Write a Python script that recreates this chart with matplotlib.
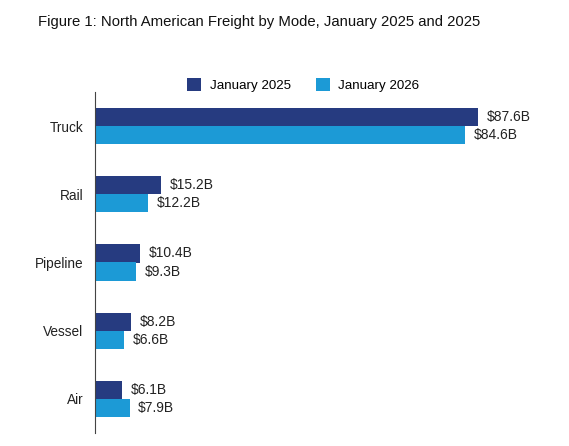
import matplotlib.pyplot as plt
import numpy as np

plt.rcParams['font.family'] = ['Liberation Sans', 'DejaVu Sans']

modes = ["Truck", "Rail", "Pipeline", "Vessel", "Air"]
jan_2025 = [87.6, 15.2, 10.4, 8.2, 6.1]
jan_2026 = [84.6, 12.2, 9.3, 6.6, 7.9]
series_names = ["January 2025", "January 2026"]

dark = "#263B80"
light = "#1C9AD6"

fig = plt.figure(figsize=(5.69, 4.46), dpi=100)
ax = fig.add_axes([95 / 569, 13 / 446, 437 / 569, 341 / 446])

y = np.arange(len(modes))
h = 0.265
b1 = ax.barh(y - h / 2, jan_2025, height=h, color=dark, label=series_names[0])
b2 = ax.barh(y + h / 2, jan_2026, height=h, color=light, label=series_names[1])

# value labels next to each bar
for bars in (b1, b2):
    for bar in bars:
        v = bar.get_width()
        ax.text(v + 2.0, bar.get_y() + bar.get_height() / 2, f"${v:.1f}B",
                va="center", ha="left", fontsize=10, color="#222222")

ax.set_xlim(0, 100)
ax.set_ylim(len(modes) - 0.5, -0.5)
ax.set_yticks(y)
ax.set_yticklabels(modes, fontsize=9.8, color="#222222")
ax.tick_params(axis="y", length=0, pad=8.5)
ax.set_xticks([])
for s in ["top", "right", "bottom"]:
    ax.spines[s].set_visible(False)
ax.spines["left"].set_color("#444444")
ax.spines["left"].set_linewidth(0.8)

fig.legend(handles=[b1, b2], labels=series_names, loc="center",
           bbox_to_anchor=(303.5 / 569, 1 - 85 / 446), ncol=2, frameon=False,
           fontsize=9.6, handlelength=1.05, handleheight=1.05,
           handletextpad=0.65, columnspacing=1.85)

fig.text(38 / 569, 1 - 22 / 446, "Figure 1: North American Freight by Mode, January 2025 and 2025",
         fontsize=10.7, va="center", ha="left", color="#111111")

fig.savefig("out.png", dpi=100)
